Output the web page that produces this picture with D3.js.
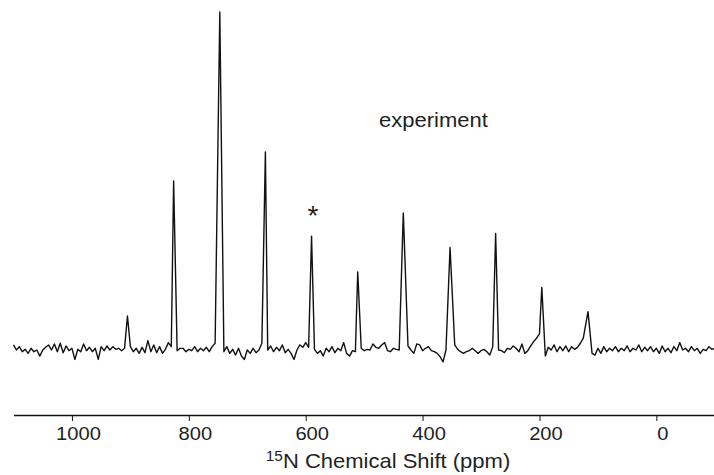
<!DOCTYPE html>
<html>
<head>
<meta charset="utf-8">
<script src="https://cdn.jsdelivr.net/npm/d3@7"></script>
<style>
  body { margin: 0; background: #fff; }
  text { font-family: "Liberation Sans", Arial, sans-serif; fill: #222; }
</style>
</head>
<body>
<div id="spectrum"></div>
<script>
// baseline noise, every 5 ppm from 1100 ppm down
const ppmStart = 1100;
const ppmStep = 5;
const noise = [
  1.2, -0.3, 0.7, -0.8, -0.1, -1.3, 0.2, -0.8, -0.3, -2.1,
  -0.3, 0.5, 1.2, -0.3, 1.5, -0.8, 1.7, -1.1, 0.9, -0.5,
  0.2, -3.1, -0.1, -0.8, 1.5, -0.5, 0.5, -0.8, 0.2, -3.1,
  0.7, -0.5, 0.9, -0.3, 0.7, -0.1, 0.2, -0.5, 0.2, -0.1,
  0.7, -0.8, 0.2, -1.3, 0.5, -1.1, 2.5, -0.8, 1.2, -1.1,
  0.7, -1.3, -0.1, 1.9, 0.7, 0, -0.5, 0.2, 0.2, -0.8,
  -0.1, -0.5, 0.7, -0.8, 0.2, -0.5, 0.5, -0.8, 0.7, 1.7,
  0.9, 0, -0.8, 0.7, -1.3, -0.1, -1.8, 0.2, -2.1, -3.1,
  -0.3, -1.3, 0.2, -1.1, -0.3, 1.7, 0, -0.3, 0.9, -0.8,
  0.5, -0.5, 1.2, -1.1, -0.1, -1.3, -3.1, -0.3, 1.2, 0.5,
  1.9, 0.5, 0, -0.1, -1.3, -0.5, -2.1, 0.2, -0.8, 0.7,
  -1.1, 0.2, -0.5, 1.9, -1.3, -2.1, -0.5, -0.8, 0, 0.2,
  -0.5, -0.1, -0.3, 1.5, 0.5, 0.2, 1.2, 1.9, -0.5, -0.8,
  0.2, -0.1, -0.3, 0, -0.8, 0.9, -0.3, -1.3, 1.5, 1.2,
  -0.5, 0.2, 0.7, -0.5, -0.8, -1.3, -2.3, -3.8, -0.3, 0,
  0.2, 1.2, -0.1, -0.8, -1.3, -0.8, -0.5, 0.2, -0.5, -1.3,
  -0.5, -0.1, -0.8, -1.8, 0.7, 0, -0.3, -0.5, -1.1, 0.2,
  -0.1, 0.9, 0.2, -0.8, 1.5, -1.3, -0.5, 0.9, 2.2, 3.2,
  4.5, 0, -2.1, 0.5, -0.3, 1.2, -0.8, 0.7, -0.5, 0.9,
  -0.8, 0.7, -0.1, 0.5, 1.7, 3.2, 0, -0.1, -1.3, -1.8,
  0.2, -1.3, 0.7, -0.8, 0.2, -0.5, 0.7, -0.8, 0.2, -0.5,
  0.9, -0.8, 0.2, -0.3, 1.2, -0.8, 0.5, -0.5, 0.7, -0.8,
  0.2, -1.3, 0.9, -0.8, 0.2, -1.1, 0.7, -0.5, 1.9, -0.3,
  0.2, -0.8, 0.7, -0.5, 0.2, -1.3, -0.1, -0.5, 0.7, -0.1,
  0.2
];

// spinning sideband positions (ppm) and heights (tallest = 100)
const peakPpm = [905, 826, 747, 669, 590, 511, 433, 353, 275, 196, 117];
const peakHeight = [9.8, 49.9, 100, 58.5, 33.5, 22.9, 40.4, 30.1, 34.3, 18.3, 11.1];

const tickValues = [1000, 800, 600, 400, 200, 0];

let width = 714;
let height = 475;

let svg = d3.select("#spectrum").append("svg")
  .attr("width", width)
  .attr("height", height);

let x = d3.scaleLinear()
  .domain([1100, -100])
  .range([13.5, 714.8]);

let y = d3.scaleLinear()
  .domain([0, 100])
  .range([349, 12]);

// trace = noise with the peak tops dropped in
let points = noise
  .map((v, i) => ({ppm: ppmStart - i * ppmStep, v: v}))
  .filter(p => !peakPpm.some(c => Math.abs(c - p.ppm) < 3.5));
peakPpm.forEach((c, i) => points.push({ppm: c, v: peakHeight[i]}));
points.sort((a, b) => b.ppm - a.ppm);

let line = d3.line()
  .x(d => x(d.ppm))
  .y(d => y(d.v));

svg.append("path")
  .datum(points)
  .attr("d", line)
  .attr("fill", "none")
  .attr("stroke", "#111")
  .attr("stroke-width", 1.4)
  .attr("stroke-linejoin", "round");

// x axis
let axis = svg.append("g")
  .attr("transform", "translate(0,415)")
  .call(d3.axisBottom(x)
    .tickValues(tickValues)
    .tickSize(6)
    .tickSizeOuter(0)
    .tickFormat(d3.format("d")));

axis.select(".domain")
  .attr("stroke", "#111")
  .attr("stroke-width", 1.5);
axis.selectAll(".tick line")
  .attr("stroke", "#111")
  .attr("stroke-width", 1);
axis.selectAll(".tick text")
  .attr("y", 0)
  .attr("dy", 0)
  .attr("transform", "translate(6,25) scale(1.12,1)")
  .style("font-size", "18px")
  .style("font-family", "Liberation Sans, Arial, sans-serif")
  .attr("fill", "#222");

// axis title
let title = svg.append("g")
  .attr("transform", "translate(388,468) scale(1.1,1)")
  .append("text")
  .attr("text-anchor", "middle")
  .style("font-size", "20px");
title.append("tspan")
  .attr("dy", -7)
  .style("font-size", "14px")
  .text("15");
title.append("tspan")
  .attr("dy", 7)
  .text("N Chemical Shift (ppm)");

// labels
svg.append("g")
  .attr("transform", "translate(379,127) scale(1.1,1)")
  .append("text")
  .style("font-size", "20px")
  .text("experiment");

svg.append("g")
  .attr("transform", "translate(313,225)")
  .append("text")
  .attr("text-anchor", "middle")
  .style("font-size", "28px")
  .text("*");
</script>
</body>
</html>
